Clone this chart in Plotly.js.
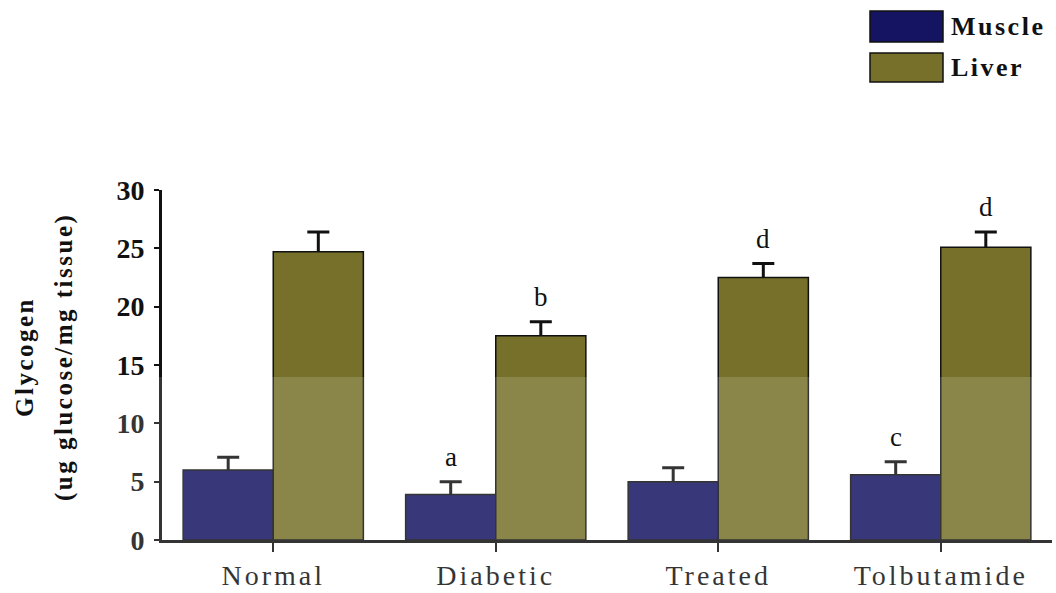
<!DOCTYPE html>
<html>
<head>
<meta charset="utf-8">
<script src="https://cdn.plot.ly/plotly-3.0.1.min.js"></script>
<style>
  html, body { margin: 0; padding: 0; background: #ffffff; }
  #chart { width: 1056px; height: 593px; }
  .xtick text { letter-spacing: 3px; }
  .annotation-text { letter-spacing: 2.5px; }
</style>
</head>
<body>
<div id="chart"></div>
<script>
// ---- data ----
const categories = ['Normal', 'Diabetic', 'Treated', 'Tolbutamide'];
const seriesNames = ['Muscle', 'Liver'];
const muscle = [6.0, 3.9, 5.0, 5.6];
const muscleErr = [1.1, 1.1, 1.2, 1.1];
const liver = [24.7, 17.5, 22.5, 25.1];
const liverErr = [1.7, 1.2, 1.2, 1.3];
const muscleLetters = ['', 'a', '', 'c'];
const liverLetters = ['', 'b', 'd', 'd'];
const yTicks = [0, 5, 10, 15, 20, 25, 30];
const yTitleLines = ['Glycogen', '(ug glucose/mg tissue)'];

// ---- styling ----
const colors = ['#141462', '#76702a'];
const ink = '#111111';
const serif = 'Liberation Serif, Times New Roman, serif';

// plot area in pixels (for paper-coordinate helpers)
const W = 1056, H = 593;
const L = 162, R = 4, T = 190, B = 53;
const pw = W - L - R, ph = H - T - B;
const px = x => (x - L) / pw;
const py = y => (H - B - y) / ph;

// error bars live on transparent twins drawn underneath the real bars,
// so only the upper stem and cap show above each bar
function errorTwin(group, vals, errs) {
  return {
    type: 'bar', x: categories, y: vals, offsetgroup: group,
    marker: { color: 'rgba(0,0,0,0)', line: { width: 0 } },
    error_y: { type: 'data', symmetric: false, array: errs, arrayminus: vals,
               color: ink, thickness: 3, width: 11 },
    hoverinfo: 'skip', showlegend: false
  };
}
function barTrace(group, name, vals, color) {
  return {
    type: 'bar', name: name, x: categories, y: vals, offsetgroup: group,
    marker: { color: color, line: { color: ink, width: 1.5 } },
    hoverinfo: 'x+y+name'
  };
}

const data = [
  errorTwin('m', muscle, muscleErr),
  errorTwin('l', liver, liverErr),
  barTrace('m', seriesNames[0], muscle, colors[0]),
  barTrace('l', seriesNames[1], liver, colors[1])
];

const annotations = [];
const barHalf = pw / categories.length * 0.81 / 4;
categories.forEach((c, i) => {
  if (muscleLetters[i]) annotations.push({
    x: c, y: muscle[i] + muscleErr[i], xref: 'x', yref: 'y',
    text: muscleLetters[i], showarrow: false, xshift: -barHalf + 1, yshift: 8,
    yanchor: 'bottom', font: { family: serif, size: 27, color: ink }
  });
  if (liverLetters[i]) annotations.push({
    x: c, y: liver[i] + liverErr[i], xref: 'x', yref: 'y',
    text: liverLetters[i], showarrow: false, xshift: barHalf + 1, yshift: 8,
    yanchor: 'bottom', font: { family: serif, size: 27, color: ink }
  });
});

// y-axis title as two rotated lines (wider line spacing than <br>)
const titleX = [24, 64];
yTitleLines.forEach((t, i) => annotations.push({
  xref: 'paper', yref: 'paper', x: px(titleX[i]), y: py(357),
  xanchor: 'center', yanchor: 'middle', textangle: -90, showarrow: false,
  text: t, font: { family: serif, size: 25, color: ink, weight: 'bold' }
}));

// custom legend (large swatches as in reference)
const shapes = [];
const legendRows = [[11, 42], [53, 82]];
seriesNames.forEach((n, i) => {
  const [t, b] = legendRows[i];
  shapes.push({
    type: 'rect', xref: 'paper', yref: 'paper',
    x0: px(870), x1: px(943), y0: py(b), y1: py(t),
    fillcolor: colors[i], line: { color: ink, width: 1.5 }
  });
  annotations.push({
    xref: 'paper', yref: 'paper', x: px(949), y: py((t + b) / 2),
    xanchor: 'left', yanchor: 'middle', showarrow: false, text: n,
    font: { family: serif, size: 26, color: ink, weight: 'bold' }
  });
});

// faint watermark band over the lower part of the figure
shapes.push({
  type: 'rect', xref: 'paper', yref: 'paper', layer: 'above',
  x0: px(0), x1: px(W), y0: py(H), y1: py(377),
  fillcolor: '#ffffff', opacity: 0.15, line: { width: 0 }
});

const layout = {
  width: W, height: H,
  margin: { l: L, r: R, t: T, b: B },
  paper_bgcolor: '#ffffff', plot_bgcolor: '#ffffff',
  barmode: 'group', bargap: 0.19, bargroupgap: 0,
  showlegend: false,
  xaxis: {
    type: 'category', range: [-0.5, 3.5],
    showline: true, linecolor: ink, linewidth: 2.5,
    ticks: 'outside', ticklen: 9, tickwidth: 2, tickcolor: ink,
    showgrid: false, zeroline: false,
    tickfont: { family: serif, size: 28, color: ink }
  },
  yaxis: {
    range: [0, 30], tickvals: yTicks, ticktext: yTicks.map(String),
    showline: true, linecolor: ink, linewidth: 3,
    ticks: 'outside', ticklen: 5, tickwidth: 2, tickcolor: ink,
    ticklabelstandoff: 4,
    showgrid: false, zeroline: false,
    tickfont: { family: serif, size: 28, color: ink, weight: 'bold' }
  },
  shapes: shapes,
  annotations: annotations
};

Plotly.newPlot('chart', data, layout, { displayModeBar: false, staticPlot: true });
</script>
</body>
</html>
